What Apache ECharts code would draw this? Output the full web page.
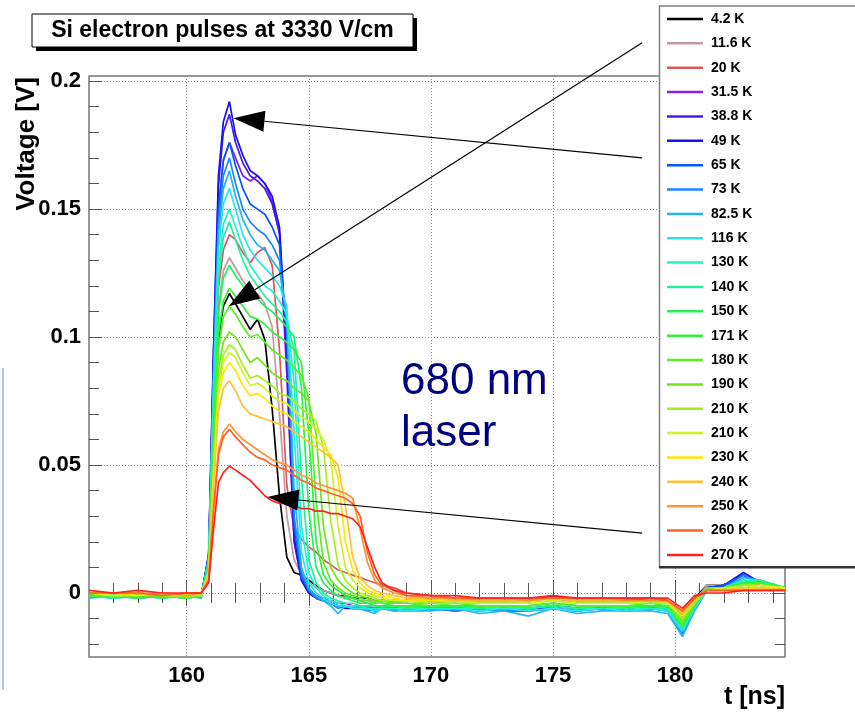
<!DOCTYPE html>
<html><head><meta charset="utf-8">
<script src="https://cdn.jsdelivr.net/npm/echarts@6/dist/echarts.min.js"></script>
<style>html,body{margin:0;padding:0;background:#fff}#c{width:855px;height:717px}</style>
</head><body><div id="c"></div>
<script>
// ---- data ----
const times = [156,157,158,159,160,160.6,160.9,161.1,161.3,161.5,161.75,162,162.3,162.6,162.9,163.2,163.5,163.8,164.1,164.4,164.7,165,165.3,165.6,165.9,166.2,166.5,166.8,167.1,167.4,167.7,168,168.5,169,170,171,172,173,174,175,176,177,178,179,179.7,180.3,180.8,181.3,182,182.8,183.5,184.5];

const seriesNames = ['4.2 K','11.6 K','20 K','31.5 K','38.8 K','49 K','65 K','73 K','82.5 K','116 K','130 K','140 K','150 K','171 K','180 K','190 K','210 K','210 K','230 K','240 K','250 K','260 K','270 K'];
const seriesColors = ['#000000','#c39aa4','#d65a5a','#8a22e6','#4a18f4','#1414e6','#0656ff','#1a86ff','#22b4f4','#2ee2f2','#20f2cc','#20f29a','#22f25a','#34f03c','#56f02a','#6ee618','#a4f020','#d2f222','#ffe600','#ffc236','#ff9432','#ff6222','#ff2222'];

const k4_2  = [-0.001,0,-0.001,-0.001,0,0, 0.009,0.058,0.099,0.112,0.117, 0.113,0.108,0.103,0.107,0.099,0.072,0.038,0.014,0.008,0.007,0.005,0.003,0.001,0,-0.001,-0.001,-0.002,-0.002,-0.002,-0.003,-0.003,-0.003,-0.003,-0.003,-0.003,-0.003,-0.003,-0.003,-0.001,-0.003,-0.003,-0.003,-0.002,-0.003,-0.009,-0.002,0.003,0.003,0.007,0.004,0.002];
const k11_6 = [0,-0.001,0,-0.001,-0.001,0, 0.01,0.066,0.111,0.126,0.131, 0.127,0.122,0.118,0.117,0.113,0.104,0.07,0.03,0.013,0.007,0.004,0.002,0.001,0,-0.001,-0.002,-0.002,-0.003,-0.003,-0.003,-0.003,-0.004,-0.003,-0.004,-0.003,-0.004,-0.004,-0.003,-0.002,-0.004,-0.004,-0.004,-0.003,-0.004,-0.01,-0.003,0.003,0.003,0.007,0.004,0.002];
const k20    = [0,0,-0.001,0,-0.001,0, 0.011,0.07,0.119,0.134,0.14, 0.138,0.133,0.129,0.133,0.135,0.128,0.095,0.042,0.025,0.021,0.018,0.016,0.013,0.011,0.009,0.008,0.007,0.006,0.005,0.004,0.003,0.002,0,-0.001,-0.002,-0.003,-0.003,-0.003,-0.002,-0.003,-0.003,-0.003,-0.003,-0.004,-0.009,-0.003,0.002,0.002,0.005,0.003,0.002];
const k31_5 = [-0.001,-0.001,0,-0.001,-0.001,-0.001, 0.014,0.088,0.15,0.169,0.176, 0.17,0.163,0.161,0.163,0.16,0.153,0.14,0.085,0.02,0.006,0.001,-0.001,-0.002,-0.003,-0.004,-0.004,-0.005,-0.005,-0.005,-0.006,-0.005,-0.006,-0.006,-0.005,-0.006,-0.006,-0.006,-0.006,-0.005,-0.006,-0.006,-0.006,-0.005,-0.006,-0.014,-0.005,0.002,0.003,0.007,0.004,0.002];
const k38_8 = [-0.001,0,-0.001,-0.001,-0.002,-0.001, 0.015,0.094,0.159,0.18,0.187, 0.176,0.168,0.163,0.161,0.158,0.152,0.141,0.09,0.02,0.005,0,-0.002,-0.003,-0.004,-0.005,-0.005,-0.006,-0.005,-0.006,-0.006,-0.006,-0.006,-0.006,-0.006,-0.006,-0.007,-0.006,-0.007,-0.005,-0.006,-0.006,-0.007,-0.006,-0.006,-0.015,-0.006,0.002,0.003,0.007,0.004,0.002];
const k49    = [-0.001,-0.001,-0.001,0,-0.001,-0.001, 0.015,0.096,0.163,0.184,0.192, 0.179,0.171,0.165,0.163,0.16,0.155,0.143,0.095,0.022,0.005,0,-0.002,-0.003,-0.004,-0.005,-0.006,-0.006,-0.006,-0.006,-0.007,-0.006,-0.006,-0.007,-0.006,-0.007,-0.006,-0.007,-0.007,-0.006,-0.007,-0.006,-0.007,-0.006,-0.007,-0.015,-0.006,0.002,0.003,0.008,0.004,0.002];
const k65    = [-0.001,-0.001,-0.002,-0.001,-0.001,-0.001, 0.014,0.088,0.15,0.169,0.176, 0.167,0.158,0.152,0.15,0.148,0.143,0.136,0.1,0.026,0.006,0.001,-0.002,-0.003,-0.004,-0.005,-0.005,-0.006,-0.006,-0.006,-0.006,-0.006,-0.006,-0.006,-0.006,-0.006,-0.006,-0.007,-0.006,-0.005,-0.006,-0.006,-0.006,-0.006,-0.006,-0.015,-0.006,0.002,0.003,0.007,0.004,0.002];
const k73    = [-0.001,-0.002,-0.001,-0.001,-0.002,-0.001, 0.014,0.085,0.145,0.163,0.17, 0.16,0.15,0.145,0.142,0.14,0.136,0.13,0.104,0.03,0.008,0.001,-0.002,-0.003,-0.004,-0.006,-0.005,-0.006,-0.006,-0.007,-0.006,-0.006,-0.007,-0.006,-0.006,-0.007,-0.006,-0.007,-0.007,-0.006,-0.007,-0.006,-0.007,-0.006,-0.007,-0.016,-0.006,0.002,0.002,0.007,0.004,0.001];
const k82_5 = [-0.002,-0.001,-0.002,-0.001,-0.001,-0.002, 0.013,0.083,0.14,0.158,0.165, 0.155,0.146,0.14,0.136,0.134,0.13,0.126,0.108,0.04,0.01,0.002,-0.001,-0.003,-0.005,-0.008,-0.005,-0.006,-0.006,-0.007,-0.008,-0.006,-0.007,-0.007,-0.007,-0.006,-0.008,-0.007,-0.009,-0.006,-0.008,-0.007,-0.007,-0.007,-0.008,-0.017,-0.007,0.001,0.002,0.006,0.005,0.001];
const k116   = [-0.001,-0.002,-0.001,-0.002,-0.001,-0.001, 0.013,0.079,0.134,0.152,0.158, 0.15,0.14,0.134,0.13,0.127,0.124,0.12,0.112,0.062,0.016,0.004,0,-0.002,-0.004,-0.005,-0.005,-0.006,-0.006,-0.006,-0.007,-0.006,-0.006,-0.007,-0.006,-0.006,-0.007,-0.006,-0.007,-0.006,-0.007,-0.006,-0.007,-0.006,-0.007,-0.015,-0.006,0.001,0.002,0.005,0.004,0.002];
const k130   = [-0.001,-0.001,-0.002,-0.001,-0.002,-0.001, 0.012,0.075,0.128,0.144,0.15, 0.143,0.135,0.128,0.124,0.12,0.118,0.114,0.109,0.082,0.026,0.008,0.002,-0.001,-0.003,-0.004,-0.005,-0.005,-0.005,-0.006,-0.006,-0.006,-0.006,-0.006,-0.006,-0.006,-0.006,-0.006,-0.006,-0.005,-0.006,-0.006,-0.006,-0.006,-0.006,-0.014,-0.005,0.002,0.002,0.005,0.005,0.002];
const k140   = [-0.001,-0.002,-0.001,-0.001,-0.002,-0.001, 0.012,0.073,0.123,0.139,0.145, 0.138,0.13,0.124,0.12,0.116,0.113,0.11,0.106,0.095,0.045,0.013,0.004,0,-0.002,-0.003,-0.004,-0.004,-0.005,-0.005,-0.005,-0.005,-0.005,-0.006,-0.005,-0.005,-0.006,-0.005,-0.006,-0.005,-0.006,-0.005,-0.006,-0.005,-0.006,-0.014,-0.005,0.002,0.002,0.004,0.005,0.002];
const k150   = [-0.001,-0.001,-0.001,-0.002,-0.001,-0.001, 0.01,0.064,0.109,0.123,0.128, 0.124,0.12,0.116,0.115,0.112,0.11,0.107,0.104,0.1,0.08,0.032,0.01,0.004,0.001,-0.001,-0.002,-0.003,-0.004,-0.004,-0.005,-0.005,-0.005,-0.005,-0.005,-0.005,-0.005,-0.005,-0.005,-0.004,-0.005,-0.005,-0.005,-0.005,-0.005,-0.013,-0.005,0.002,0.002,0.004,0.004,0.002];
const k171   = [-0.001,-0.001,-0.002,-0.001,-0.001,-0.001, 0.01,0.06,0.101,0.114,0.119, 0.116,0.112,0.108,0.107,0.105,0.102,0.1,0.098,0.095,0.09,0.062,0.02,0.007,0.003,0.001,-0.001,-0.002,-0.003,-0.004,-0.004,-0.004,-0.005,-0.005,-0.005,-0.005,-0.005,-0.005,-0.005,-0.004,-0.005,-0.005,-0.005,-0.005,-0.005,-0.013,-0.005,0.002,0.002,0.004,0.004,0.002];
const k180   = [-0.001,-0.001,-0.001,-0.001,-0.002,-0.001, 0.009,0.056,0.095,0.108,0.112, 0.109,0.104,0.1,0.101,0.098,0.095,0.093,0.091,0.088,0.085,0.076,0.036,0.012,0.005,0.002,0,-0.001,-0.002,-0.003,-0.004,-0.004,-0.004,-0.004,-0.005,-0.004,-0.005,-0.005,-0.005,-0.004,-0.005,-0.005,-0.005,-0.004,-0.005,-0.012,-0.004,0.002,0.002,0.003,0.004,0.002];
const k190   = [-0.001,0,-0.001,-0.001,-0.001,-0.001, 0.008,0.051,0.087,0.098,0.102, 0.1,0.095,0.09,0.092,0.089,0.086,0.084,0.083,0.08,0.078,0.075,0.062,0.026,0.01,0.005,0.002,0,-0.001,-0.002,-0.003,-0.003,-0.004,-0.004,-0.004,-0.004,-0.004,-0.004,-0.004,-0.003,-0.004,-0.004,-0.004,-0.004,-0.004,-0.011,-0.004,0.002,0.002,0.003,0.003,0.002];
const k210a  = [0,-0.001,-0.001,0,-0.001,-0.001, 0.008,0.049,0.082,0.093,0.097, 0.095,0.089,0.084,0.085,0.083,0.081,0.078,0.077,0.075,0.072,0.07,0.067,0.057,0.028,0.011,0.005,0.002,0,-0.001,-0.002,-0.003,-0.003,-0.003,-0.004,-0.004,-0.004,-0.004,-0.004,-0.003,-0.004,-0.004,-0.004,-0.004,-0.004,-0.01,-0.004,0.001,0.002,0.003,0.003,0.002];
const k210b  = [0,-0.001,0,-0.001,-0.001,0, 0.008,0.047,0.08,0.09,0.094, 0.092,0.086,0.081,0.082,0.08,0.077,0.075,0.074,0.071,0.069,0.067,0.064,0.06,0.052,0.026,0.01,0.005,0.002,0,-0.001,-0.002,-0.003,-0.003,-0.003,-0.003,-0.004,-0.004,-0.004,-0.003,-0.004,-0.004,-0.004,-0.003,-0.004,-0.009,-0.003,0.001,0.002,0.002,0.003,0.002];
const k230   = [0,0,-0.001,0,-0.001,0, 0.007,0.045,0.077,0.086,0.09, 0.087,0.081,0.077,0.078,0.076,0.073,0.071,0.07,0.067,0.065,0.063,0.06,0.057,0.054,0.045,0.02,0.009,0.004,0.001,0,-0.001,-0.002,-0.003,-0.003,-0.003,-0.003,-0.003,-0.003,-0.002,-0.003,-0.003,-0.003,-0.003,-0.003,-0.008,-0.003,0.001,0.001,0.002,0.002,0.002];
const k240   = [0,0,0,-0.001,0,0, 0.007,0.042,0.071,0.08,0.083, 0.079,0.073,0.07,0.069,0.068,0.067,0.066,0.065,0.063,0.061,0.059,0.057,0.055,0.053,0.05,0.034,0.014,0.006,0.003,0.001,0,-0.001,-0.002,-0.002,-0.003,-0.003,-0.003,-0.003,-0.002,-0.003,-0.003,-0.003,-0.003,-0.003,-0.008,-0.003,0.001,0.001,0.002,0.002,0.001];
const k250   = [0,0,0,0,-0.001,0, 0.005,0.033,0.056,0.063,0.066, 0.063,0.06,0.058,0.056,0.054,0.052,0.051,0.05,0.048,0.046,0.045,0.043,0.042,0.041,0.04,0.039,0.037,0.025,0.012,0.005,0.002,0,-0.001,-0.002,-0.002,-0.002,-0.002,-0.003,-0.002,-0.002,-0.002,-0.003,-0.003,-0.003,-0.007,-0.002,0.001,0.001,0.001,0.001,0.001];
const k260   = [0,0,0,-0.001,0,0, 0.005,0.032,0.054,0.061,0.064, 0.061,0.058,0.055,0.053,0.052,0.05,0.049,0.048,0.046,0.044,0.043,0.041,0.04,0.039,0.038,0.037,0.035,0.03,0.016,0.007,0.003,0.001,-0.001,-0.001,-0.002,-0.002,-0.002,-0.002,-0.002,-0.002,-0.002,-0.002,-0.002,-0.003,-0.007,-0.002,0.001,0.001,0.001,0.001,0.001];
const k270   = [0.001,0,0.001,0,0,0, 0.004,0.025,0.043,0.047,0.0496, 0.048,0.046,0.044,0.041,0.038,0.036,0.035,0.035,0.034,0.033,0.033,0.032,0.032,0.031,0.031,0.03,0.029,0.026,0.018,0.01,0.004,0.001,0,-0.001,-0.001,-0.002,-0.002,-0.002,-0.001,-0.002,-0.002,-0.002,-0.002,-0.002,-0.006,-0.001,0,0,0.001,0.001,0.001];

const seriesValues = [k4_2,k11_6,k20,k31_5,k38_8,k49,k65,k73,k82_5,k116,k130,k140,k150,k171,k180,k190,k210a,k210b,k230,k240,k250,k260,k270];

const xMajorTicks = [160,165,170,175,180];
const xMinorTicks = [157,158,159,161,162,163,164,166,167,168,169,171,172,173,174,176,177,178,179,181,182,183,184];
const yMajorTicks = [0,0.05,0.1,0.15,0.2];
const yMinorTicks = [-0.02,-0.01,0.01,0.02,0.03,0.04,0.06,0.07,0.08,0.09,0.11,0.12,0.13,0.14,0.16,0.17,0.18,0.19];

const titleText = 'Si electron pulses at 3330 V/cm';
const xTitle = 't [ns]';
const yTitle = 'Voltage [V]';
const noteLines = ['680 nm', 'laser'];
// arrows: [tip, tail] in data coordinates
const arrowTips  = [[161.92, 0.1855], [161.72, 0.112], [163.31, 0.0375]];
const arrowTails = [[178.65, 0.170], [178.65, 0.215], [178.65, 0.0234]];

// ---- chart ----
const FONT = '"Liberation Sans", Arial, Helvetica, sans-serif';
const chart = echarts.init(document.getElementById('c'), null, {renderer: 'canvas'});
const X0 = 156, X1 = 184.5, Y0 = -0.025, Y1 = 0.202;
const gridPos = {left: 89, top: 76, width: 696, height: 581};

function xAx(pos, ticks, len, labels, split) {
  return {
    type: 'value', min: X0, max: X1, position: pos, gridIndex: 0,
    axisLine: {show: false},
    axisTick: {show: true, inside: true, length: len, customValues: ticks, lineStyle: {color: '#555', width: 1}},
    axisLabel: labels ? {show: true, customValues: ticks, margin: 8, color: '#000', fontFamily: FONT, fontWeight: 'bold', fontSize: 22} : {show: false},
    splitLine: split ? {show: true, lineStyle: {color: '#888', type: [1, 2], width: 1}} : {show: false}
  };
}
function yAx(pos, ticks, len, labels, split) {
  return {
    type: 'value', min: Y0, max: Y1, position: pos, gridIndex: 0,
    axisLine: {show: false},
    axisTick: {show: true, inside: true, length: len, customValues: ticks, lineStyle: {color: '#555', width: 1}},
    axisLabel: labels ? {show: true, customValues: ticks, margin: 8, color: '#000', fontFamily: FONT, fontWeight: 'bold', fontSize: 22,
      formatter: v => String(+(+v).toFixed(3))} : {show: false},
    splitLine: split ? {show: true, lineStyle: {color: '#888', type: [1, 2], width: 1}} : {show: false}
  };
}

const series = seriesNames.map((n, i) => ({
  name: i === 17 ? n + '\u00a0' : n,
  type: 'line',
  xAxisIndex: 0, yAxisIndex: 0,
  data: times.map((t, j) => [t, seriesValues[i][j]]),
  showSymbol: false, symbol: 'none',
  lineStyle: {color: seriesColors[i], width: 1.7},
  itemStyle: {color: seriesColors[i]},
  emphasis: {disabled: true},
  animation: false, z: 2
}));

chart.setOption({
  animation: false,
  backgroundColor: '#fff',
  grid: Object.assign({show: true, borderColor: '#777', borderWidth: 1.5, backgroundColor: 'transparent'}, gridPos),
  xAxis: [xAx('bottom', xMajorTicks, 13, true, true), xAx('bottom', xMinorTicks, 10, false, false),
          xAx('top', xMajorTicks, 13, false, false), xAx('top', xMinorTicks, 10, false, false)],
  yAxis: [yAx('left', yMajorTicks, 13, true, true), yAx('left', yMinorTicks, 10, false, false),
          yAx('right', yMajorTicks, 13, false, false), yAx('right', yMinorTicks, 10, false, false)],
  legend: {
    show: true, orient: 'vertical', left: 667, top: 12, padding: 0,
    icon: 'rect', itemWidth: 36, itemHeight: 2.5, itemGap: 10.36,
    data: series.map(s => s.name),
    formatter: n => n.trim(),
    textStyle: {fontFamily: FONT, fontWeight: 'bold', fontSize: 14, color: '#000', lineHeight: 14, padding: [0, 0, 0, 3]},
    selectedMode: false, z: 6
  },
  series: series
});

// ---- annotations ----
const g = [];
// light blue stripe at far left
g.push({type: 'rect', shape: {x: 2, y: 368, width: 2, height: 322}, style: {fill: '#a9cde9'}, z: 1, silent: true});
// title box with shadow
g.push({type: 'rect', shape: {x: 36, y: 18, width: 381, height: 33}, style: {fill: '#000'}, z: 10});
g.push({type: 'rect', shape: {x: 32, y: 14, width: 381, height: 33}, style: {fill: '#fff', stroke: '#000', lineWidth: 1}, z: 11});
g.push({type: 'text', x: 222.5, y: 31, style: {text: titleText, fill: '#000', font: 'bold 23px ' + FONT, textAlign: 'center', textVerticalAlign: 'middle'}, z: 12});
// legend box
g.push({type: 'rect', shape: {x: 659.5, y: 6, width: 210, height: 561}, style: {fill: '#fff', stroke: '#7f7f7f', lineWidth: 1.5}, z: 4});
g.push({type: 'rect', shape: {x: 659, y: 566, width: 210, height: 2.5}, style: {fill: '#333'}, z: 4});
// axis titles
g.push({type: 'text', x: 785, y: 685, style: {text: xTitle, fill: '#000', font: 'bold 25px ' + FONT, textAlign: 'right', textVerticalAlign: 'top'}, z: 10});
g.push({type: 'text', x: 27, y: 77, rotation: Math.PI / 2, style: {text: yTitle, fill: '#000', font: 'bold 26px ' + FONT, textAlign: 'right', textVerticalAlign: 'middle'}, z: 10});
// note text
g.push({type: 'text', x: 401, y: 382, style: {text: noteLines[0], fill: '#000080', font: '44px ' + FONT, textAlign: 'left', textVerticalAlign: 'middle'}, z: 10});
g.push({type: 'text', x: 401, y: 434, style: {text: noteLines[1], fill: '#000080', font: '44px ' + FONT, textAlign: 'left', textVerticalAlign: 'middle'}, z: 10});
// arrows
arrowTips.forEach((tip, i) => {
  const P = chart.convertToPixel({gridIndex: 0}, tip);
  const Q = chart.convertToPixel({gridIndex: 0}, arrowTails[i]);
  const dx = P[0] - Q[0], dy = P[1] - Q[1], L = Math.hypot(dx, dy);
  const ux = dx / L, uy = dy / L, nx = -uy, ny = ux;
  const HL = 31, HW = 10.5;
  const B = [P[0] - ux * HL, P[1] - uy * HL];
  g.push({type: 'line', shape: {x1: Q[0], y1: Q[1], x2: B[0], y2: B[1]}, style: {stroke: '#000', lineWidth: 1.2}, z: 9});
  g.push({type: 'polygon', shape: {points: [P, [B[0] + nx * HW, B[1] + ny * HW], [B[0] - nx * HW, B[1] - ny * HW]]}, style: {fill: '#000'}, z: 9});
});
chart.setOption({graphic: {elements: g}});
</script>
</body></html>
